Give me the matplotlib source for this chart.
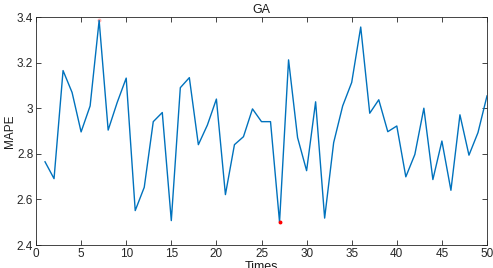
import numpy as np
import matplotlib.pyplot as plt

plt.rcParams['font.family'] = ['Liberation Sans', 'DejaVu Sans']

times = np.arange(1, 51)
mape = [2.765, 2.691, 3.165, 3.069, 2.896, 3.010, 3.385, 2.904, 3.025, 3.132,
        2.551, 2.653, 2.941, 2.981, 2.507, 3.090, 3.134, 2.840, 2.926, 3.040,
        2.621, 2.840, 2.875, 2.997, 2.941, 2.941, 2.501, 3.212, 2.871, 2.726,
        3.028, 2.518, 2.849, 3.010, 3.113, 3.356, 2.978, 3.037, 2.897, 2.922,
        2.699, 2.797, 3.000, 2.687, 2.856, 2.640, 2.971, 2.794, 2.893, 3.054]
mape = np.array(mape)

fig = plt.figure(figsize=(4.93, 2.68), dpi=100)
ax = fig.add_axes([36 / 493, 23 / 268, 451 / 493, 228 / 268])

ax.plot(times, mape, color='#0072BD', lw=1.0)
# mark min / max
imin = np.argmin(mape)
imax = np.argmax(mape)
ax.plot(times[imin], mape[imin], 'o', color='red', ms=1.8, zorder=3)
ax.plot(times[imax], mape[imax], 'o', color='#ffb0b0', ms=1.8, zorder=1)

ax.set_xlim(0, 50)
ax.set_ylim(2.4, 3.4)
ax.set_xticks(np.arange(0, 51, 5))
ax.set_yticks([2.4, 2.6, 2.8, 3.0, 3.2, 3.4])
ax.set_yticklabels(['2.4', '2.6', '2.8', '3', '3.2', '3.4'])
ax.tick_params(direction='in', top=True, right=True, labelsize=8.5, colors='#262626',
               length=3.5, width=0.6, pad=2)
for s in ax.spines.values():
    s.set_linewidth(0.6)
    s.set_color('#262626')

ax.set_title('GA', fontsize=9, pad=3, color='#1a1a1a')
ax.set_ylabel('MAPE', fontsize=8.5, color='#1a1a1a')
ax.yaxis.set_label_coords(-0.044, 0.5)
ax.set_xlabel('Times', fontsize=9, labelpad=1, color='#1a1a1a')

fig.savefig('out.png', dpi=100)
